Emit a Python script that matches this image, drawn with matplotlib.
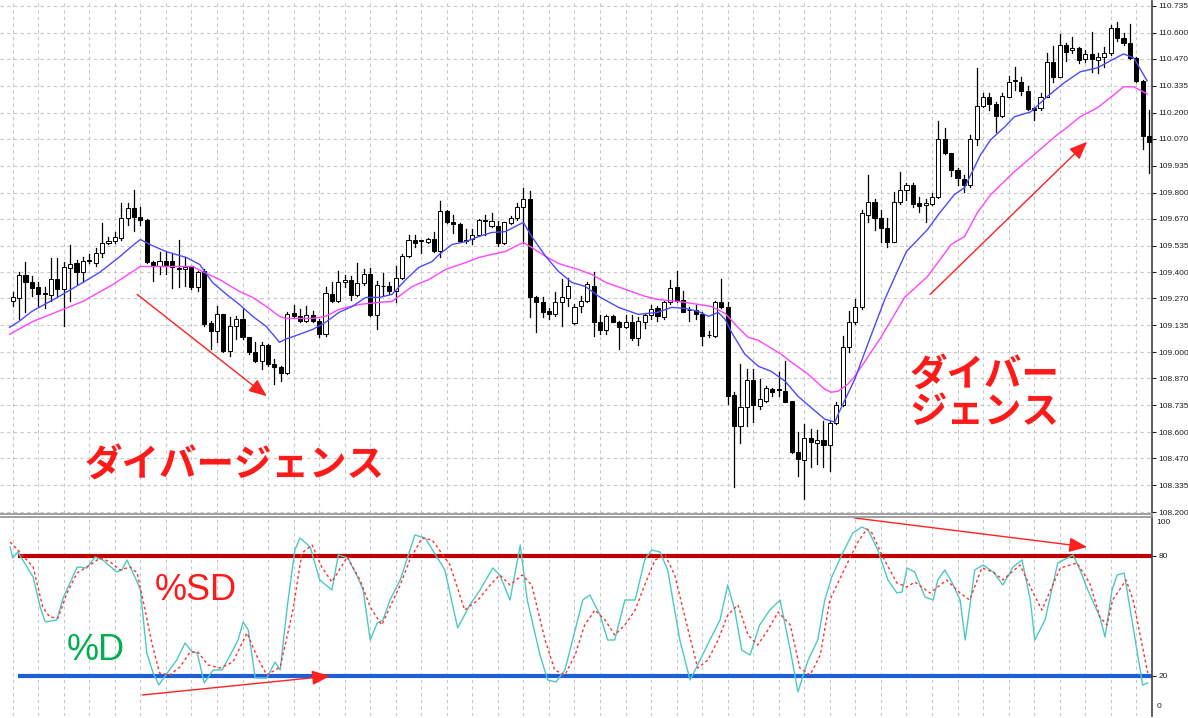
import matplotlib.pyplot as plt
import matplotlib.lines as mlines
import numpy as np

# ---- candle data (179 bars) ----
opens = [109.255,109.270,109.385,109.350,109.325,109.295,109.285,109.365,109.315,109.420,
         109.445,109.400,109.455,109.445,109.500,109.550,109.560,109.575,109.675,109.725,
         109.680,109.665,109.450,109.430,109.455,109.455,109.420,109.415,109.430,109.325,
         109.405,109.145,109.105,109.190,109.005,109.130,109.165,109.075,109.000,108.955,
         109.035,108.940,108.925,108.895,109.195,109.180,109.155,109.185,109.155,109.090,
         109.290,109.255,109.350,109.360,109.285,109.345,109.390,109.185,109.332,109.330,
         109.305,109.370,109.485,109.565,109.562,109.555,109.570,109.510,109.710,109.655,
         109.645,109.565,109.570,109.590,109.665,109.635,109.635,109.550,109.650,109.675,
         109.730,109.770,109.275,109.250,109.205,109.190,109.250,109.270,109.145,109.230,
         109.255,109.330,109.150,109.110,109.180,109.150,109.125,109.150,109.070,109.150,
         109.185,109.220,109.175,109.250,109.325,109.260,109.212,109.210,109.190,109.087,
         109.080,109.250,109.225,108.785,108.630,108.725,108.860,108.730,108.755,108.815,
         108.812,108.805,108.755,108.500,108.460,108.570,108.545,108.560,108.535,108.645,
         108.735,109.025,109.150,109.225,109.690,109.755,109.675,109.625,109.555,109.755,
         109.815,109.840,109.750,109.740,109.745,109.780,110.070,110.000,109.915,109.870,
         109.840,110.070,110.235,110.280,110.245,110.185,110.280,110.358,110.355,110.310,
         110.225,110.225,110.280,110.455,110.380,110.540,110.515,110.525,110.470,110.495,
         110.465,110.480,110.500,110.625,110.575,110.550,110.475,110.360,110.085]
highs = [109.300,109.400,109.450,109.380,109.350,109.325,109.470,109.470,109.450,109.540,
         109.460,109.475,109.495,109.525,109.650,109.580,109.605,109.750,109.750,109.815,
         109.730,109.670,109.455,109.505,109.505,109.500,109.565,109.480,109.430,109.405,
         109.415,109.155,109.230,109.190,109.175,109.180,109.215,109.075,109.050,109.050,
         109.040,108.965,108.930,109.200,109.235,109.215,109.230,109.205,109.165,109.325,
         109.350,109.405,109.385,109.380,109.445,109.415,109.420,109.355,109.395,109.350,
         109.430,109.495,109.590,109.590,109.565,109.575,109.605,109.760,109.715,109.690,
         109.650,109.620,109.620,109.670,109.690,109.700,109.660,109.655,109.685,109.750,
         109.825,109.810,109.280,109.275,109.220,109.300,109.365,109.370,109.240,109.280,
         109.350,109.400,109.185,109.185,109.185,109.155,109.185,109.185,109.175,109.195,
         109.235,109.230,109.255,109.360,109.405,109.305,109.225,109.235,109.200,109.105,
         109.255,109.365,109.250,108.800,108.940,108.915,108.915,108.865,108.830,108.820,
         108.900,108.955,108.755,108.600,108.640,108.615,108.610,108.655,108.655,108.750,
         109.080,109.205,109.265,109.715,109.890,109.770,109.715,109.675,109.805,109.905,
         109.850,109.850,109.780,109.770,109.800,110.160,110.125,110.000,109.925,109.890,
         110.090,110.425,110.300,110.300,110.255,110.300,110.385,110.430,110.380,110.335,
         110.230,110.300,110.500,110.535,110.595,110.550,110.580,110.530,110.515,110.605,
         110.500,110.530,110.640,110.655,110.600,110.645,110.480,110.365,110.215]
lows = [109.230,109.165,109.200,109.280,109.230,109.220,109.255,109.275,109.130,109.255,
        109.340,109.350,109.445,109.430,109.480,109.545,109.550,109.565,109.640,109.610,
        109.640,109.445,109.355,109.390,109.390,109.320,109.325,109.330,109.315,109.305,
        109.130,109.015,109.050,109.000,108.980,109.065,109.065,108.990,108.950,108.915,
        108.930,108.840,108.855,108.890,109.175,109.150,109.150,109.150,109.075,109.080,
        109.250,109.250,109.325,109.260,109.280,109.335,109.180,109.115,109.280,109.290,
        109.250,109.365,109.480,109.530,109.500,109.550,109.505,109.480,109.650,109.600,
        109.555,109.550,109.545,109.585,109.590,109.630,109.535,109.545,109.645,109.665,
        109.550,109.175,109.100,109.175,109.165,109.180,109.130,109.230,109.140,109.200,
        109.250,109.080,109.090,109.090,109.150,109.015,109.120,109.060,109.035,109.120,
        109.165,109.155,109.165,109.240,109.250,109.200,109.155,109.165,109.035,109.075,
        109.075,109.220,108.740,108.325,108.545,108.630,108.650,108.715,108.750,108.780,
        108.780,108.750,108.495,108.380,108.265,108.425,108.440,108.425,108.405,108.640,
        108.730,109.000,109.140,109.215,109.655,109.615,109.555,109.530,109.555,109.745,
        109.765,109.730,109.705,109.655,109.740,109.775,109.995,109.885,109.840,109.805,
        109.830,110.040,110.230,110.215,110.105,110.180,110.280,110.315,110.290,110.215,
        110.165,110.215,110.280,110.355,110.380,110.460,110.500,110.450,110.455,110.405,
        110.400,110.430,110.490,110.560,110.540,110.470,110.355,110.020,109.900]
closes = [109.275,109.385,109.350,109.320,109.290,109.290,109.365,109.315,109.425,109.440,
          109.400,109.455,109.460,109.500,109.550,109.560,109.580,109.675,109.725,109.680,
          109.665,109.450,109.430,109.455,109.435,109.425,109.415,109.425,109.325,109.400,
          109.140,109.105,109.190,109.005,109.130,109.165,109.075,109.000,108.955,109.035,
          108.940,108.925,108.895,109.190,109.180,109.155,109.185,109.155,109.090,109.295,
          109.255,109.350,109.360,109.285,109.345,109.390,109.185,109.335,109.330,109.305,
          109.370,109.485,109.565,109.550,109.560,109.570,109.510,109.710,109.655,109.645,
          109.560,109.560,109.590,109.665,109.660,109.660,109.550,109.655,109.675,109.730,
          109.770,109.275,109.250,109.200,109.190,109.250,109.275,109.330,109.225,109.255,
          109.340,109.150,109.110,109.180,109.150,109.125,109.150,109.070,109.155,109.185,
          109.215,109.180,109.250,109.320,109.255,109.200,109.210,109.190,109.080,109.085,
          109.250,109.225,108.780,108.630,108.725,108.860,108.735,108.765,108.820,108.800,
          108.810,108.750,108.500,108.465,108.570,108.550,108.560,108.535,108.645,108.735,
          109.025,109.150,109.225,109.700,109.755,109.675,109.625,109.555,109.755,109.815,
          109.840,109.745,109.735,109.750,109.780,110.070,110.000,109.915,109.875,109.840,
          110.070,110.235,110.280,110.245,110.185,110.285,110.355,110.360,110.310,110.220,
          110.215,110.280,110.455,110.380,110.540,110.505,110.525,110.465,110.495,110.470,
          110.480,110.500,110.625,110.575,110.550,110.475,110.360,110.085,110.055]

# moving averages (bar position, price)
fast_ma_x = [-0.5,1,3,7,11,13.6,16.8,18.8,20,21.5,24,27.2,29.3,31.3,33.5,35.5,37.6,39.7,41.8,42.7,
             44.9,47,49,51.1,53.2,55.3,57.4,59.4,61.6,63.6,65.7,66.8,68.8,71,73,75,77.2,79.3,80,81.3,
             83.5,85.5,87.6,89.7,91.8,94.9,98,101,103.2,105.3,107.4,109,110.5,111.6,112.6,114.7,116.8,
             118.8,121,123,125,127.2,128.8,129.3,131.9,134.4,136.6,138.7,140,143.3,145,147.5,149.1,
             151.6,153.2,155.4,156.9,159.5,162,164.7,167.2,169.9,172.5,174,175.6,177.7]
fast_ma = [109.125,109.155,109.205,109.275,109.350,109.400,109.480,109.535,109.565,109.540,109.505,
           109.475,109.440,109.350,109.290,109.240,109.180,109.130,109.050,109.065,109.090,109.115,
           109.150,109.200,109.230,109.275,109.275,109.290,109.365,109.425,109.455,109.490,109.540,
           109.555,109.580,109.600,109.605,109.640,109.650,109.580,109.480,109.405,109.350,109.330,
           109.280,109.225,109.190,109.200,109.225,109.220,109.205,109.180,109.200,109.165,109.100,
           108.990,108.930,108.905,108.855,108.780,108.725,108.665,108.650,108.690,108.865,109.080,
           109.265,109.415,109.505,109.615,109.690,109.790,109.825,109.990,110.065,110.130,110.180,
           110.205,110.280,110.350,110.405,110.425,110.470,110.495,110.475,110.360]
slow_ma_x = [-0.5,3.2,7.1,11,15.7,18.8,20,28.2,29.7,32.4,35.5,37.6,39.7,41.8,42.7,47,49,51.1,54.3,
             57.4,59.4,62.6,65.2,67.8,71,73,75,77.2,79.3,80,81.3,83.5,85.5,87,88.6,90.7,92.9,96,99.1,
             101,104.3,107.4,109.4,111.6,113.6,115.2,116.8,120.4,122,124.6,127.2,128.2,129.3,130.8,
             131.9,133.5,136,138.6,139.7,143.3,147,149.1,151.1,153.2,156.9,160,163.6,164.7,167.2,
             169.9,172.5,174,175.6,177.7]
slow_ma = [109.090,109.155,109.205,109.255,109.340,109.405,109.430,109.430,109.405,109.365,109.305,
           109.275,109.230,109.180,109.170,109.170,109.180,109.215,109.240,109.250,109.255,109.330,
           109.365,109.415,109.450,109.475,109.490,109.505,109.540,109.550,109.525,109.480,109.445,
           109.430,109.415,109.390,109.350,109.315,109.280,109.265,109.255,109.240,109.230,109.195,
           109.125,109.075,109.060,108.990,108.950,108.890,108.815,108.800,108.805,108.840,108.880,
           108.955,109.075,109.215,109.275,109.380,109.540,109.580,109.700,109.790,109.905,109.990,
           110.090,110.115,110.180,110.225,110.290,110.330,110.330,110.295]

# stochastic (bar position, value)
k_x = [-0.4,0,0.8,3.2,4.3,5.1,6.9,7.9,10.1,11.6,12.9,14.1,16.3,17.1,17.9,19.5,20,21,22,22.9,24.2,
       25.7,27,28.1,28.9,30,31.4,32.8,34.5,35.3,36.1,36.9,38,39.8,41.1,41.9,43,44.2,45,46.6,48.1,
       50,51,52.5,54.1,54.9,56,57.1,58,59.1,60.7,63.0,64.6,67.7,69.7,71.6,73.2,75.2,76.3,77.9,79.5,
       80.6,82.6,83.8,85.1,86.5,88.1,89.3,90.4,92,93.2,94.3,95.9,97.5,99,100.1,101.4,102.6,104.5,
       106.1,107.3,109.2,110.8,112,113.1,114.2,115.5,117,118.6,120.2,121.8,123,124.6,126.1,127.2,
       128.3,130,131.6,133,134,135.5,137.1,138.5,139.3,140.1,141.3,142.9,144.2,144.9,146,147.1,
       148.4,149.2,150.7,152,153.6,155.1,156.7,158.1,159.4,160.1,161.7,163.7,165.2,166.1,167.2,
       168.4,170.3,171.1,172.2,173,174.1,175.5,177,177.8]
k_val = [84.5,79,82,69.5,54.5,47,48,59,74.5,74,79.5,78,72,73,78,67,63,31.5,21.5,15.5,21.5,28,36.5,
         32,31.5,16.5,23,23,33,38,47,43,19,19,27,23,54.5,83,89,84.5,68,63,80.5,79,69,63,38,46.5,48,
         58,68,90.5,89,73,44,55.5,63,74,70.5,58,85.5,58,30.5,18,17,23,43,58,60.5,50.5,38,38,58,58,
         78,83,82,73,38,18,25.5,38,48,65.5,53,33,30.5,45.5,53,58,33,12,28,38,58,69.5,81.5,91.5,94.5,
         93,83,68,61.5,62,74,72,59.5,58,68,73,67,58,38,73,75.5,72,65.5,74.5,78,58,38,48,76.5,79,
         80.5,73,63,49.5,39.5,63,70.5,71.5,44.5,15.5,16.5]
d_x = [-0.4,1.1,3.2,4.7,5.8,7.1,8.5,10.1,12.1,13.7,15.3,16.8,18.4,19.5,20.4,21.8,23,24.6,26.2,
       27.8,29,30.6,32.5,34.5,36.7,38.3,39.8,41.9,43.9,45.3,46.9,48.4,50,52.4,54.4,56,57.8,59.6,
       60.7,62.2,64.1,65.7,68.5,70.8,72.9,74.8,76.3,77.9,79.8,81.3,83.4,84.9,86.5,88.1,89.6,91.2,
       92.8,94.3,95.9,97.5,99,100.6,102.2,103.7,105.8,107.3,108.9,110.5,112,113.6,115.2,116.7,
       118.3,119.9,121.8,123.3,124.9,126.5,128,130,132.3,133.8,134.6,136.3,138.5,140.1,141.3,
       143.7,146.3,148.4,149.9,151.8,153.6,155.1,157.8,159.4,161.2,164.1,166.7,168.7,170.3,171.4,
       172.3,174.4,175.5,177.8]
d_val = [87,82,74.5,54.5,49.5,49,61.5,71.5,75.5,79,77,73,74.5,71.5,58,36.5,21.5,20.5,24.5,32,32,
         25.5,24,27,41.5,29.5,20.5,24.5,53,81.5,85.5,74.5,67,79.5,68,54.5,45.5,58,65.5,78,89,88,
         75.5,53,58,65.5,70.5,65.5,70.5,65.5,38,23,20.5,30.5,45.5,53,48,40.5,45.5,53,65.5,78,80.5,
         70.5,43,24,28,38,50.5,55.5,40.5,35.5,43,52,45.5,24,20.5,30.5,58,71.5,86.5,93.5,91.5,79.5,
         66.5,64.5,67,61.5,68,61.5,58,74,72,68,75.5,64.5,53,74,76.5,66.5,49.5,45.5,58,68,58,21.5]

price_ticks = [110.735,110.600,110.470,110.335,110.200,110.070,109.935,109.800,109.670,109.535,
               109.400,109.270,109.135,109.000,108.870,108.735,108.600,108.470,108.335,108.200]

W, H = 1188, 718
fig = plt.figure(figsize=(W / 100, H / 100), dpi=100)
fig.patch.set_facecolor('white')

xl = (-12.7 / 6.384, (1152 - 12.7) / 6.384)
ax = fig.add_axes([0, 1 - 513 / H, 1152 / W, 512 / H])
ax2 = fig.add_axes([0, 1 - 716 / H, 1152 / W, 200 / H])

tick_font = ['Liberation Sans', 'DejaVu Sans']
grid_kw = dict(color='#c8c8c8', lw=0.8, ls=(0, (3, 3)), zorder=0)
for a in (ax, ax2):
    a.set_xlim(*xl)
    for s in ('top', 'left', 'bottom'):
        a.spines[s].set_visible(False)
    a.spines['right'].set_color('#404040')
    a.spines['right'].set_linewidth(1.2)
    a.yaxis.tick_right()
    a.tick_params(axis='y', length=3, width=0.8, pad=1.5, labelsize=6, colors='#202020')
    a.set_xticks([])
    for gx in range(0, 179, 4):
        a.axvline(gx, **grid_kw)

# price panel
ax.set_ylim(108.195, 110.76)
ax.set_yticks(price_ticks)
ax.set_yticklabels([f'{p:.3f}' for p in price_ticks], family=tick_font)
for p in price_ticks:
    ax.axhline(p, **grid_kw)

w = 0.64
for i, (o, h, l, c) in enumerate(zip(opens, highs, lows, closes)):
    ax.plot([i, i], [l, h], color='black', lw=0.9, zorder=2)
    bull = c >= o
    ax.add_patch(plt.Rectangle((i - w / 2, min(o, c)), w, max(abs(c - o), 0.004),
                               facecolor='white' if bull else 'black',
                               edgecolor='black', lw=0.7, zorder=3))

ax.plot(slow_ma_x, slow_ma, color='#ff44ff', lw=1.0, zorder=4)
ax.plot(fast_ma_x, fast_ma, color='#4a4aff', lw=1.0, zorder=4)

arrow_kw = dict(arrowstyle='-|>,head_length=1.1,head_width=0.45', color='#ff2020', lw=1.0,
                shrinkA=0, shrinkB=0)
ax.annotate('', xy=(39.8, 108.78), xytext=(19.5, 109.29), arrowprops=arrow_kw, zorder=5)
ax.annotate('', xy=(168.3, 110.055), xytext=(143.7, 109.29), arrowprops=arrow_kw, zorder=5)

jp = dict(color='#ff1a1a', fontsize=27, fontweight='bold',
          family=['Noto Sans CJK JP', 'DejaVu Sans'], va='center', ha='left', zorder=6)
ax.text(11.3, 108.44, 'ダイバージェンス', **jp)
ax.text(140.5, 108.89, 'ダイバー', **jp)
ax.text(140.5, 108.705, 'ジェンス', **jp)

# stochastic panel
ax2.set_ylim(0, 100)
ax2.set_yticks([80, 20])
ax2.set_yticklabels(['80', '20'], family=tick_font)
ax2.text(1.004, 0.965, '100', transform=ax2.transAxes, fontsize=6, va='center',
         color='#202020', family=tick_font)
ax2.text(1.004, 0.045, '0', transform=ax2.transAxes, fontsize=6, va='center',
         color='#202020', family=tick_font)
ax2.axhline(80, xmin=20 / 1152, xmax=1, color='#c00000', lw=3, zorder=2)
ax2.axhline(20, xmin=20 / 1152, xmax=1, color='#1f5fd6', lw=3, zorder=2)

ax2.plot(k_x, k_val, color='#4ec9c0', lw=1.0, zorder=3)
ax2.plot(d_x, d_val, color='#ff3030', lw=1.0, ls=(0, (2, 2)), zorder=3)

ax2.annotate('', xy=(49.7, 20), xytext=(20.3, 10.5), arrowprops=arrow_kw, zorder=5)
ax2.annotate('', xy=(168.3, 84.5), xytext=(131.9, 99), arrowprops=arrow_kw, zorder=5)

lat = dict(fontsize=26, family=['Liberation Sans', 'DejaVu Sans'], va='center', ha='left', zorder=6)
ax2.text(22.3, 63, '%SD', color='#ff1a1a', **lat)
ax2.text(8.5, 33, '%D', color='#00b050', **lat)

# panel separator
for yy in (514, 517):
    fig.add_artist(mlines.Line2D([0, 1152 / W], [1 - yy / H, 1 - yy / H], color='#909090', lw=1.2))

fig.savefig('out.png', dpi=100)
